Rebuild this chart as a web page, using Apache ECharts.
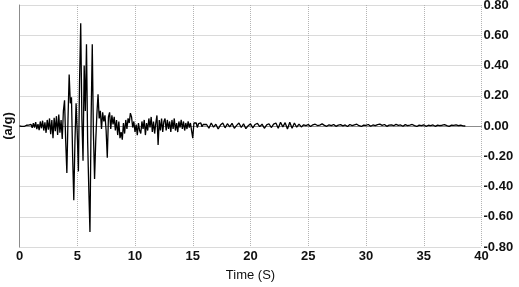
<!DOCTYPE html>
<html><head><meta charset="utf-8">
<script src="https://cdn.jsdelivr.net/npm/echarts@6/dist/echarts.min.js"></script>
<style>html,body{margin:0;padding:0;background:#fff}#c{width:519px;height:287px}</style>
</head><body><div id="c"></div>
<script>
// Time step (s) of each segment and segment start time
const dtA = 0.1, startA = 0.0;
const dtB = 0.2, startB = 16.2;

// Acceleration (a/g), 0.0 s .. 16.0 s every 0.1 s
const accelA = [
  0.000, 0.003, -0.002, 0.004, -0.003, 0.002, 0.005, -0.004, 0.006, -0.003,
  0.010, -0.012, 0.018, -0.010, 0.025, -0.020, 0.012, -0.028, 0.030, -0.015,
  0.035, -0.030, 0.025, -0.045, 0.040, -0.025, 0.050, -0.055, 0.040, -0.080,
  0.055, -0.035, 0.065, -0.060, 0.075, -0.045, 0.040, -0.085, 0.100, 0.170,
  -0.100, -0.310, 0.050, 0.340, 0.150, 0.190, -0.200, -0.490, -0.100, 0.150,
  -0.050, -0.300, 0.300, 0.680, 0.050, -0.230, 0.400, 0.100, 0.540, -0.100,
  -0.420, -0.700, 0.050, 0.540, -0.050, -0.350, -0.100, 0.080, 0.210, 0.050,
  0.100, -0.020, 0.090, 0.030, 0.070, -0.030, -0.210, 0.060, 0.090, -0.020,
  0.070, 0.010, 0.060, -0.030, 0.040, -0.060, 0.030, -0.080, -0.040, -0.090,
  0.020, -0.050, 0.040, -0.020, 0.050, 0.020, 0.085, 0.060, -0.010, 0.030,
  -0.040, 0.010, -0.060, 0.020, -0.030, -0.050, 0.030, -0.020, 0.040, -0.060,
  0.020, -0.030, 0.050, -0.010, 0.060, -0.040, 0.030, -0.050, 0.020, 0.070,
  -0.126, 0.040, -0.030, 0.050, -0.040, 0.030, 0.050, -0.030, 0.040, -0.020,
  0.030, -0.040, 0.040, -0.020, 0.050, -0.030, 0.020, -0.040, 0.030, -0.010,
  0.040, -0.020, 0.030, -0.030, 0.020, -0.020, 0.030, -0.010, 0.020, -0.030,
  -0.080, 0.020, 0.010, 0.020, -0.010, 0.015, 0.005, 0.020, -0.005, 0.010,
  0.015
];

// Acceleration (a/g), 16.2 s .. 38.6 s every 0.2 s
const accelB = [
  0.010, -0.015, 0.020, -0.008, 0.012, -0.020, 0.006, 0.020, -0.012, 0.015,
  -0.006, 0.018, -0.015, 0.004, 0.020, -0.010, 0.015, -0.018, 0.002, 0.015,
  -0.012, 0.010, 0.018, -0.004, 0.012, -0.015, 0.008, 0.015, -0.010, 0.012,
  0.020, -0.015, 0.025, -0.006, 0.022, -0.020, 0.025, -0.015, 0.020, -0.008,
  0.012, -0.006, 0.008, 0.002, 0.010, -0.003, 0.008, 0.012, 0.003, 0.006,
  0.014, 0.004, -0.002, 0.008, 0.002, 0.010, -0.002, 0.006, 0.009, 0.001,
  0.007, -0.003, 0.010, 0.003, 0.008, 0.012, 0.002, -0.003, 0.006, 0.004,
  0.010, -0.002, 0.007, 0.002, 0.009, 0.012, 0.004, 0.010, -0.002, 0.006,
  0.008, 0.002, 0.011, 0.004, 0.007, -0.002, 0.009, 0.003, 0.006, 0.010,
  0.002, -0.003, 0.006, 0.003, 0.008, -0.002, 0.005, 0.003, 0.007, -0.002,
  0.006, 0.002, 0.005, 0.009, 0.003, -0.002, 0.006, 0.004, 0.007, 0.002,
  0.005, 0.001, 0.000
];

const xMin = 0, xMax = 40, xStep = 5;
const yMin = -0.8, yMax = 0.8, yStep = 0.2;
const xTitle = 'Time (S)';
const yTitle = '(a/g)';

const points = [];
accelA.forEach((v, i) => points.push([+(startA + i * dtA).toFixed(2), v]));
accelB.forEach((v, i) => points.push([+(startB + i * dtB).toFixed(2), v]));

const FONT = '"Liberation Sans", Arial, sans-serif';
const grid = '#b4b4b4';
const axisGray = '#8c8c8c';

const chart = echarts.init(document.getElementById('c'), null, {renderer: 'canvas'});
chart.setOption({
  animation: false,
  backgroundColor: '#ffffff',
  grid: {left: 19.5, right: 37.5, top: 5, bottom: 40, containLabel: false, outerBoundsMode: 'none'},
  xAxis: [
    {
      type: 'value', min: xMin, max: xMax, interval: xStep,
      axisLine: {show: true, onZero: true, lineStyle: {color: axisGray, width: 1}},
      axisTick: {show: false}, axisLabel: {show: false}, splitLine: {show: false}
    },
    {
      type: 'value', position: 'bottom', min: xMin, max: xMax, interval: xStep,
      axisLine: {show: false, onZero: false}, axisTick: {show: false},
      axisLabel: {show: true, margin: 3, fontSize: 13, fontWeight: 'bold', color: '#111', fontFamily: FONT},
      splitLine: {show: true, lineStyle: {type: 'dotted', color: grid, width: 1}},
      name: xTitle, nameLocation: 'middle', nameGap: 22,
      nameTextStyle: {fontSize: 13, color: '#111', fontFamily: FONT}
    }
  ],
  yAxis: [
    {
      type: 'value', position: 'right', min: yMin, max: yMax, interval: yStep,
      axisLine: {show: false}, axisTick: {show: false},
      axisLabel: {margin: 2, fontSize: 13, fontWeight: 'bold', color: '#111', fontFamily: FONT,
        formatter: v => v.toFixed(2)},
      splitLine: {show: true, lineStyle: {type: 'dotted', color: grid, width: 1}}
    },
    {
      type: 'value', position: 'left', min: yMin, max: yMax, interval: yStep,
      axisLine: {show: true, onZero: false, lineStyle: {color: axisGray, width: 1}},
      axisTick: {show: false}, axisLabel: {show: false}, splitLine: {show: false},
      name: yTitle, nameLocation: 'middle', nameGap: 5, nameRotate: 90,
      nameTextStyle: {fontSize: 13, fontWeight: 'bold', color: '#111', fontFamily: FONT}
    }
  ],
  series: [{
    type: 'line', xAxisIndex: 0, yAxisIndex: 0,
    data: points, showSymbol: false, symbol: 'none',
    lineStyle: {color: '#000', width: 1.3},
    z: 3
  }]
});
</script></body></html>
